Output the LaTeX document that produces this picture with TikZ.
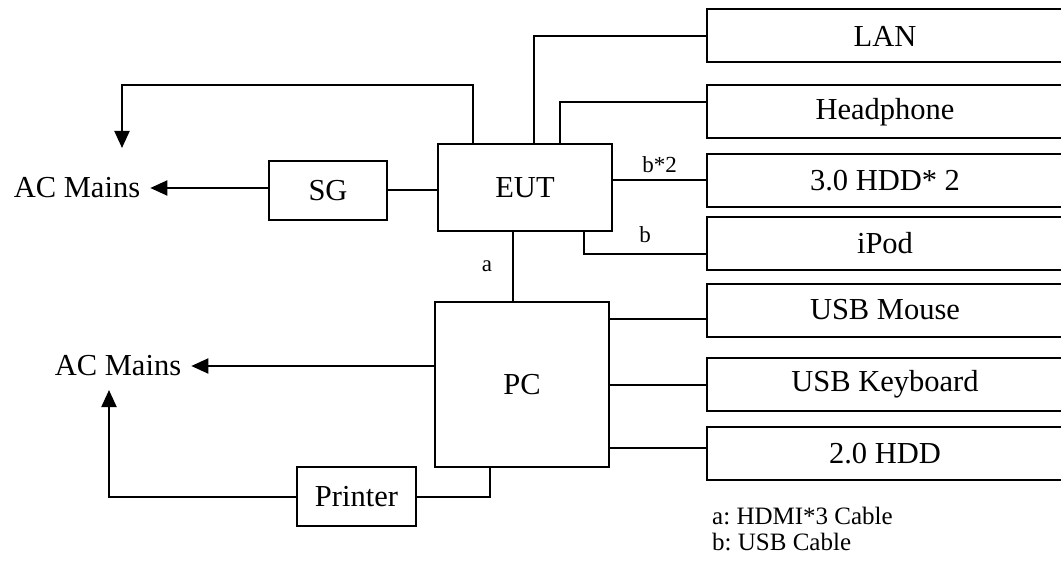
\documentclass[tikz,border=0pt]{standalone}
\usepackage{fontspec}
\setmainfont{Liberation Serif}
\usetikzlibrary{arrows.meta,positioning}
\frenchspacing

\begin{document}
\begin{tikzpicture}[
  x=1pt, y=-1pt,
  font=\fontsize{30.5}{36}\selectfont,
  unit/.style={draw, line width=2pt, inner sep=0pt},
  device/.style={unit, anchor=west, minimum width=356pt, minimum height=53pt},
  mains/.style={inner sep=10pt},
  link/.style={line width=2pt},
  power/.style={-{Triangle[length=17pt,width=15pt]}, line width=2pt},
  cable/.style={inner sep=0pt, font=\fontsize{23}{27}\selectfont},
  legend/.style={anchor=base west, inner sep=0pt, font=\fontsize{25}{30}\selectfont}
]
\useasboundingbox (0,0) rectangle (1061,567);

% test setup
\node[unit, minimum width=174pt, minimum height=87pt] (eut) at (525,187.5) {EUT};
\node[unit, minimum width=174pt, minimum height=165pt] (pc) at (522,384.5) {PC};
\node[unit, minimum width=118pt, minimum height=59pt] (sg) at (328,190.5) {SG};
\node[unit, minimum width=119pt, minimum height=59pt] (printer) at (356.5,496.5) {Printer};
\node[mains] (acA) at (77,188) {AC Mains};
\node[mains] (acB) at (118,366) {AC Mains};
\coordinate (acAin) at (122,148);
\coordinate (acBin) at (109,390);

% peripherals
\node[device] (lan) at (706,36) {LAN};
\node[device] (head) at (706,112) {Headphone};
\node[device] (hddA) at (706,180.5) {3.0 HDD* 2};
\node[device] (ipod) at (706,243.5) {iPod};
\node[device] (mouse) at (706,310) {USB Mouse};
\node[device] (kbd) at (706,384.5) {USB Keyboard};
\node[device] (hddB) at (706,453.5) {2.0 HDD};

% EUT connections
\draw[link] (lan.west) -| ([xshift=97pt]eut.north west);
\draw[link] ([yshift=10pt]head.west) -| ([xshift=123pt]eut.north west);
\draw[link] (eut.east |- hddA.west) -- node[cable, above=7pt] {b*2} (hddA.west);
\draw[link] ([yshift=-10pt]ipod.west) -| node[cable, pos=0.25, above=10pt] {b} ([xshift=-29pt]eut.south east);
\draw[link] (eut.south) ++(-12,0) coordinate (aTop) -- node[cable, left=20pt] {a} (aTop |- pc.north);
\draw[link] (sg.east) -- (sg.east -| eut.west);
\draw[power] (sg.west |- acA.east) -- (acA.east);
\draw[power] ([xshift=36pt]eut.north west) -- ++(0,-58) -| (acAin);

% PC connections
\draw[link] (pc.east |- mouse.west) ++(0,9) coordinate (mTap) -- (mTap -| mouse.west);
\draw[link] (pc.east |- kbd.west) -- (kbd.west);
\draw[link] (pc.east |- hddB.west) ++(0,-6) coordinate (hTap) -- (hTap -| hddB.west);
\draw[power] (pc.west |- acB.east) -- (acB.east);
\draw[link] (printer.east) -| ([xshift=-32pt]pc.south);
\draw[power] (printer.west) -| (acBin);

\node[legend] (legA) at (712,524) {a: HDMI*3 Cable};
\node[legend] (legB) at (712,550) {b: USB Cable};
\end{tikzpicture}
\end{document}
